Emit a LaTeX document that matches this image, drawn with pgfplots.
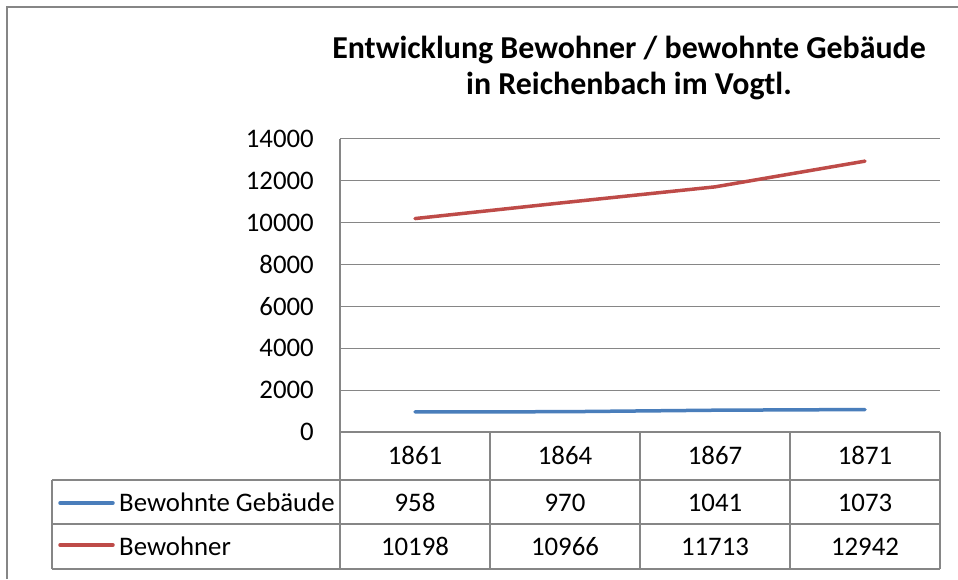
\documentclass[border=0pt]{standalone}
\usepackage{fontspec}
\setmainfont{Carlito}
\usepackage{pgfplots}
\pgfplotsset{compat=1.18}

\definecolor{gebblue}{HTML}{4A7EBB}
\definecolor{bewred}{HTML}{BE4B48}
\definecolor{linegray}{HTML}{868686}

\newcommand{\tablefont}{\fontsize{26.8}{30}\selectfont}
\newcommand{\titlefont}{\fontsize{31.9}{36}\selectfont\bfseries}

\begin{document}
\begin{tikzpicture}[x=1pt,y=1pt]
\useasboundingbox[fill=white] (0,0) rectangle (958,579);

% chart frame (left and top edges)
\draw[linegray, line width=2.5pt] (7,0) -- (7,572) -- (958,572);

% title
\node[anchor=base, font=\titlefont] at (629,520) {Entwicklung Bewohner / bewohnte Gebäude};
\node[anchor=base, font=\titlefont] at (629,484) {in Reichenbach im Vogtl.};

\begin{axis}[
  at={(340pt,147pt)}, anchor=south west,
  scale only axis, width=600pt, height=293pt,
  xmin=-0.5, xmax=3.5, ymin=0, ymax=14000,
  xtick=\empty,
  ytick={0,2000,...,14000},
  scaled y ticks=false,
  /pgf/number format/1000 sep={},
  /pgf/number format/assume math mode=true,
  yticklabel style={font=\tablefont, anchor=east, inner sep=0pt, xshift=-26pt},
  major tick length=0pt,
  ymajorgrids,
  grid style={linegray, line width=1pt},
  axis x line*=bottom, axis y line*=left,
  axis line style={linegray, line width=1.5pt},
  clip=false,
]
\addplot[gebblue, line width=3.5pt, line cap=round, line join=round]
  coordinates {(0,958) (1,970) (2,1041) (3,1073)};
\addplot[bewred, line width=3.5pt, line cap=round, line join=round]
  coordinates {(0,10198) (1,10966) (2,11713) (3,12942)};
\end{axis}

% data table below the axis
\begin{scope}[linegray, line width=1.5pt]
  \draw (340,147) -- (340,10);
  \foreach \x in {490,640,790,940} \draw (\x,147) -- (\x,10);
  \draw (940,147) -- (340,147);
  \foreach \y in {99,55,10} \draw (52,\y) -- (940,\y);
  \draw (52,99) -- (52,10);
\end{scope}

\foreach \x/\yr/\g/\b in {415/1861/958/10198, 565/1864/970/10966,
                         715/1867/1041/11713, 865/1871/1073/12942} {
  \node[anchor=base, font=\tablefont, inner sep=0pt] at (\x,115) {\yr};
  \node[anchor=base, font=\tablefont, inner sep=0pt] at (\x,68) {\g};
  \node[anchor=base, font=\tablefont, inner sep=0pt] at (\x,24) {\b};
}

% series keys in the first column
\draw[gebblue, line width=3.5pt, line cap=round] (60,76) -- (113,76);
\node[anchor=base west, font=\tablefont, inner sep=0pt] at (119,68) {Bewohnte Gebäude};
\draw[bewred, line width=3.5pt, line cap=round] (60,34) -- (113,34);
\node[anchor=base west, font=\tablefont, inner sep=0pt] at (119,24) {Bewohner};
\end{tikzpicture}
\end{document}
